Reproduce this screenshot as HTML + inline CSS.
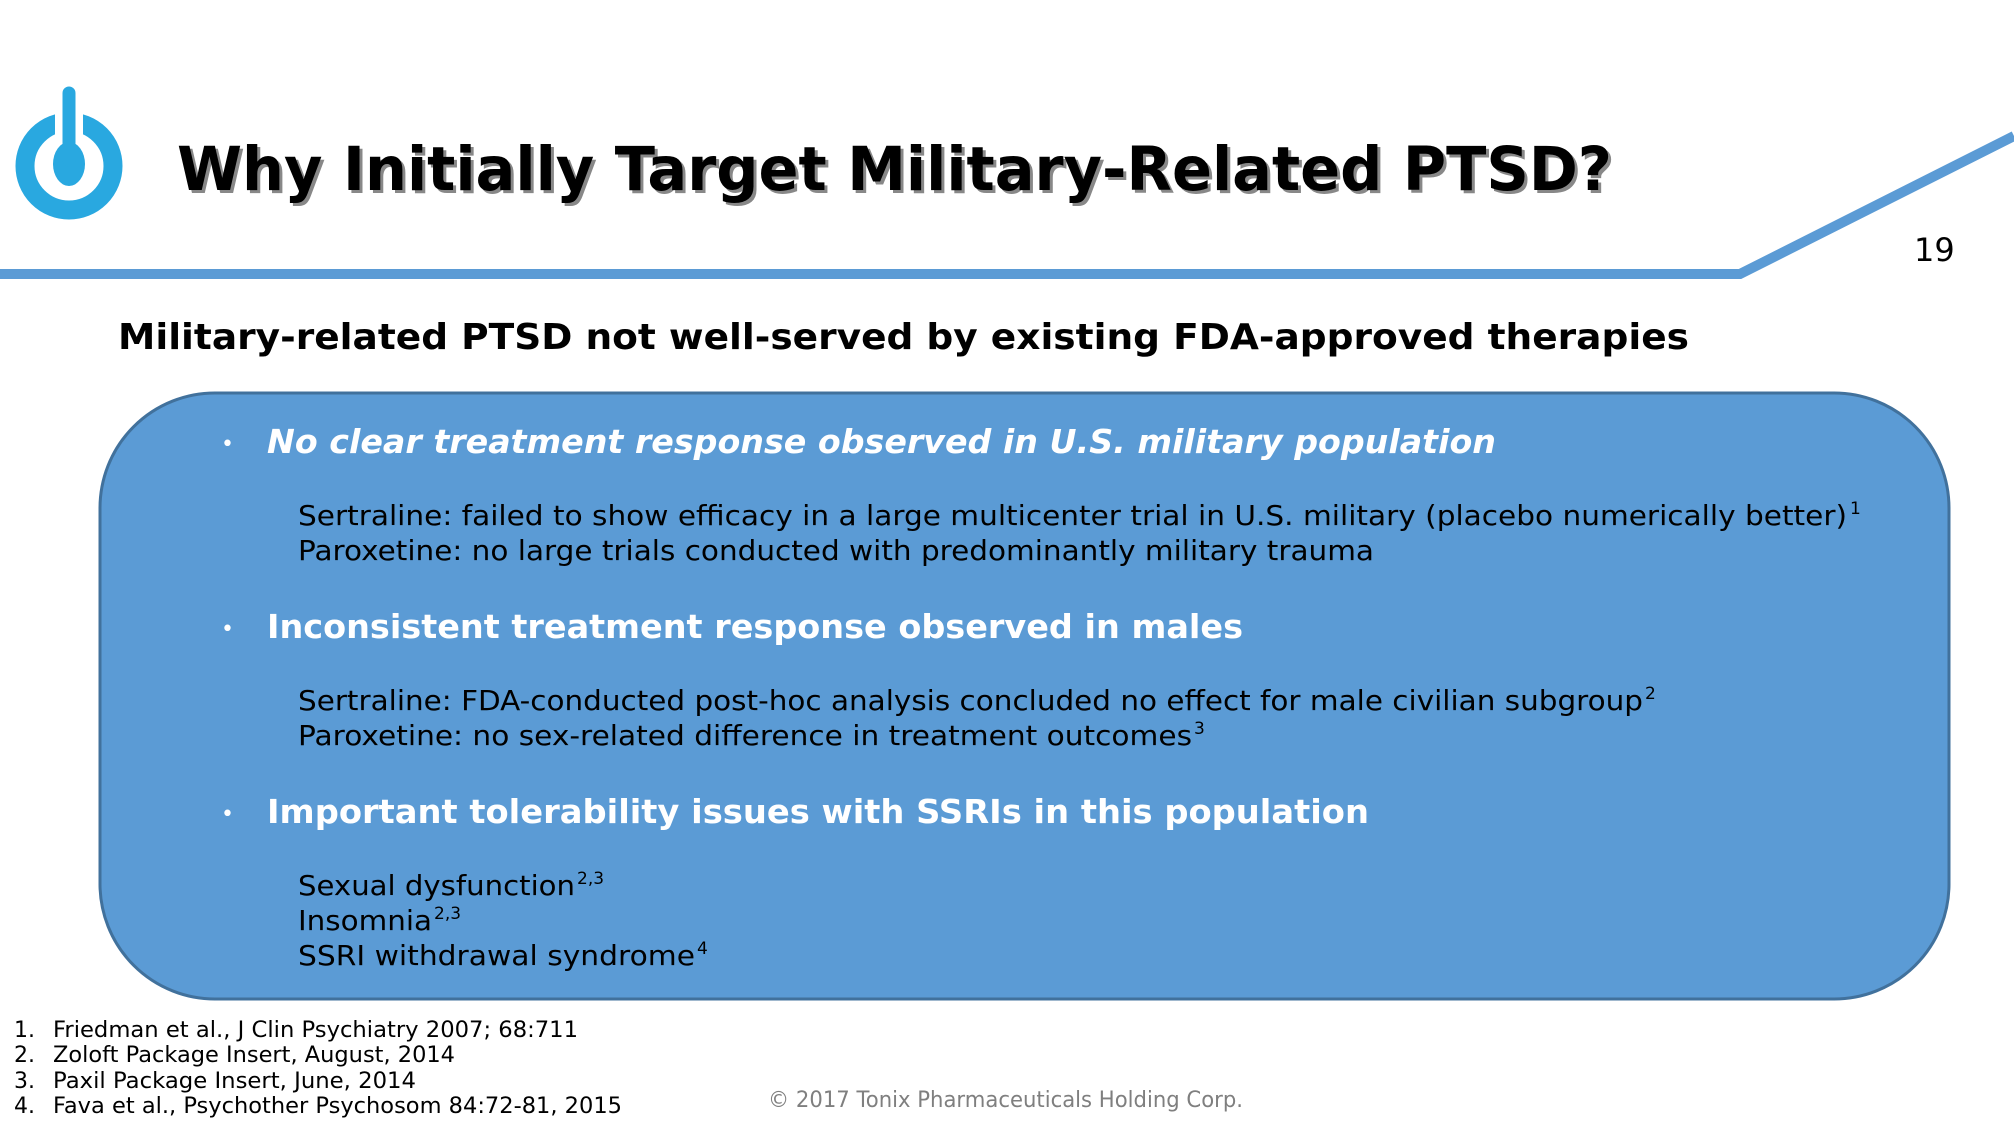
<!DOCTYPE html>
<html><head><meta charset="utf-8"><style>html,body{margin:0;padding:0;background:#fff}svg{display:block}</style></head>
<body>
<svg width="2014" height="1125" viewBox="0 0 2014 1125" xmlns="http://www.w3.org/2000/svg" font-family="'DejaVu Sans','Liberation Sans',sans-serif">
<rect width="2014" height="1125" fill="#fff"/>
<!-- logo -->
<circle cx="69" cy="166" r="44" fill="none" stroke="#29a8e0" stroke-width="19"/>
<rect x="55" y="100" width="28" height="50" fill="#fff"/>
<ellipse cx="69" cy="164" rx="16" ry="22" fill="#29a8e0"/>
<line x1="69" y1="93" x2="69" y2="160" stroke="#29a8e0" stroke-width="13" stroke-linecap="round"/>
<!-- title -->
<text x="180" y="193" font-size="61" font-weight="bold" fill="#888" textLength="1435" lengthAdjust="spacingAndGlyphs">Why Initially Target Military-Related PTSD?</text>
<text x="177" y="190" font-size="61" font-weight="bold" fill="#000" textLength="1435" lengthAdjust="spacingAndGlyphs">Why Initially Target Military-Related PTSD?</text>
<polyline points="0,274 1740,274 2014,136" fill="none" stroke="#5b9bd5" stroke-width="10"/>
<text x="1914" y="261" font-size="32" fill="#000">19</text>
<text x="118" y="349" font-size="36" font-weight="bold" fill="#000" textLength="1571" lengthAdjust="spacingAndGlyphs">Military-related PTSD not well-served by existing FDA-approved therapies</text>
<!-- box -->
<rect x="100" y="393" width="1849" height="606" rx="115" ry="115" fill="#5b9bd5" stroke="#41719c" stroke-width="3"/>
<g fill="#fff">
<text x="221" y="451" font-size="22">•</text>
<text x="267" y="453" font-size="33" font-weight="bold" font-style="italic" textLength="1229" lengthAdjust="spacingAndGlyphs">No clear treatment response observed in U.S. military population</text>
</g>
<g fill="#000" font-size="28">
<text x="298" y="525" textLength="1549" lengthAdjust="spacingAndGlyphs">Sertraline: failed to show efficacy in a large multicenter trial in U.S. military (placebo numerically better)</text>
<text x="1850" y="514" font-size="17">1</text>
<text x="298" y="560" textLength="1076" lengthAdjust="spacingAndGlyphs">Paroxetine: no large trials conducted with predominantly military trauma</text>
</g>
<g fill="#fff">
<text x="221" y="636" font-size="22">•</text>
<text x="267" y="638" font-size="33" font-weight="bold" textLength="976" lengthAdjust="spacingAndGlyphs">Inconsistent treatment response observed in males</text>
</g>
<g fill="#000" font-size="28">
<text x="298" y="710" textLength="1345" lengthAdjust="spacingAndGlyphs">Sertraline: FDA-conducted post-hoc analysis concluded no effect for male civilian subgroup</text>
<text x="1645" y="699" font-size="17">2</text>
<text x="298" y="745" textLength="894" lengthAdjust="spacingAndGlyphs">Paroxetine: no sex-related difference in treatment outcomes</text>
<text x="1194" y="734" font-size="17">3</text>
</g>
<g fill="#fff">
<text x="221" y="821" font-size="22">•</text>
<text x="267" y="823" font-size="33" font-weight="bold" textLength="1102" lengthAdjust="spacingAndGlyphs">Important tolerability issues with SSRIs in this population</text>
</g>
<g fill="#000" font-size="28">
<text x="298" y="895" textLength="277" lengthAdjust="spacingAndGlyphs">Sexual dysfunction</text>
<text x="577" y="884" font-size="17">2,3</text>
<text x="298" y="930" textLength="134" lengthAdjust="spacingAndGlyphs">Insomnia</text>
<text x="434" y="919" font-size="17">2,3</text>
<text x="298" y="965" textLength="397" lengthAdjust="spacingAndGlyphs">SSRI withdrawal syndrome</text>
<text x="697" y="954" font-size="17">4</text>
</g>
<!-- footnotes -->
<g fill="#000" font-size="22">
<text x="14" y="1037">1.</text><text x="53" y="1037" textLength="525" lengthAdjust="spacingAndGlyphs">Friedman et al., J Clin Psychiatry 2007; 68:711</text>
<text x="14" y="1062">2.</text><text x="53" y="1062" textLength="402" lengthAdjust="spacingAndGlyphs">Zoloft Package Insert, August, 2014</text>
<text x="14" y="1088">3.</text><text x="53" y="1088" textLength="363" lengthAdjust="spacingAndGlyphs">Paxil Package Insert, June, 2014</text>
<text x="14" y="1113">4.</text><text x="53" y="1113" textLength="569" lengthAdjust="spacingAndGlyphs">Fava et al., Psychother Psychosom 84:72-81, 2015</text>
</g>
<text x="768" y="1107" font-size="22" fill="#7f7f7f" textLength="475" lengthAdjust="spacingAndGlyphs">© 2017 Tonix Pharmaceuticals Holding Corp.</text>
</svg>
</body></html>
